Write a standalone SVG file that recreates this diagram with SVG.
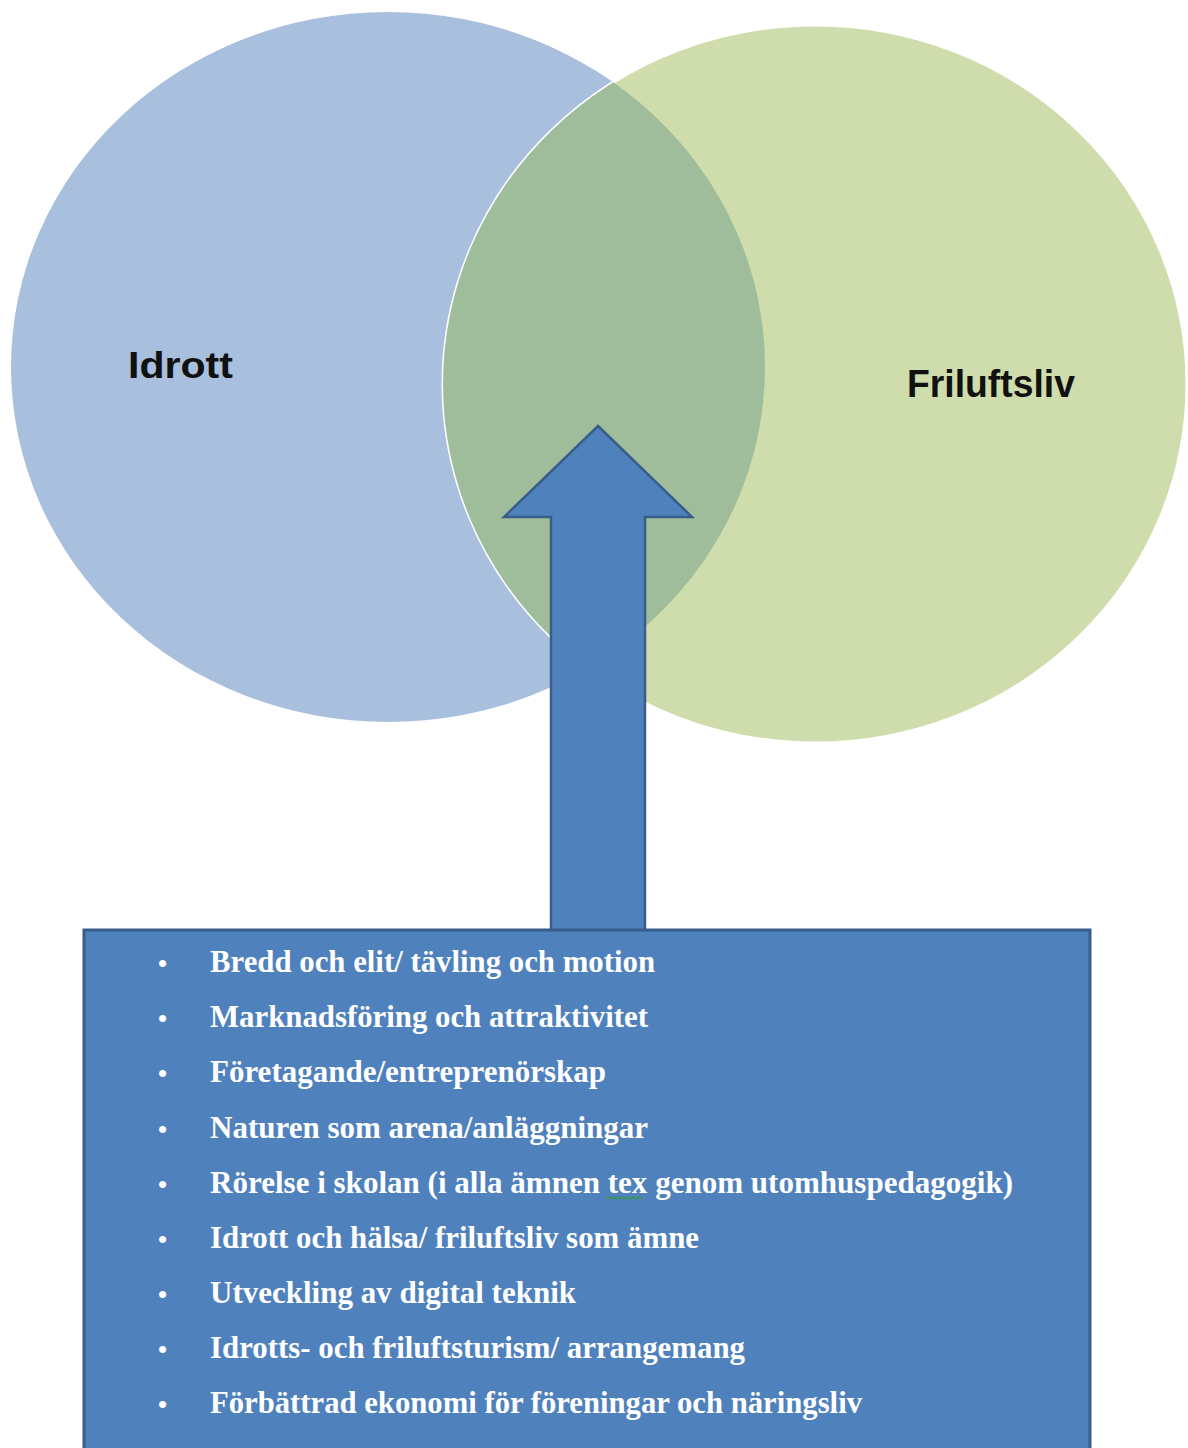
<svg xmlns="http://www.w3.org/2000/svg" width="1188" height="1448" viewBox="0 0 1188 1448">
<style>
.lbl{font-family:"Liberation Sans",Arial,sans-serif;font-weight:bold;fill:#111;}
.item{font-family:"Liberation Serif","Times New Roman",serif;font-weight:bold;font-size:32px;fill:#fff;}
.bul{font-family:"Liberation Sans",Arial,sans-serif;font-size:26px;fill:#fff;}
</style>
<defs>
<clipPath id="greenClip"><ellipse cx="815" cy="384" rx="372" ry="359"/></clipPath>
</defs>
<rect width="1188" height="1448" fill="#fff"/>
<g id="idrott">
<ellipse cx="388" cy="367" rx="377" ry="355" fill="#a8bfdd"/>
</g>
<g id="friluftsliv">
<ellipse cx="815" cy="384" rx="372" ry="359" fill="#cfdcab" stroke="#fff" stroke-width="3"/>
</g>
<g id="overlap">
<ellipse cx="388" cy="367" rx="377" ry="355" fill="#9fbd9b" clip-path="url(#greenClip)"/>
</g>
<g id="labels">
<text class="lbl" x="128" y="378" font-size="37" textLength="105" lengthAdjust="spacingAndGlyphs">Idrott</text>
<text class="lbl" x="907" y="397" font-size="38" textLength="168" lengthAdjust="spacingAndGlyphs">Friluftsliv</text>
</g>
<g id="connectors">
<path d="M598 426 L692 517 L645 517 L645 945 L551 945 L551 517 L504 517 Z" fill="#4f81bd" stroke="#385d8a" stroke-width="2.5" stroke-linejoin="miter"/>
</g>
<g id="box">
<rect x="84" y="930" width="1006" height="540" fill="#4f81bd" stroke="#385d8a" stroke-width="3"/>
<g class="bul">
<text x="158" y="972">•</text>
<text x="158" y="1027">•</text>
<text x="158" y="1082">•</text>
<text x="158" y="1138">•</text>
<text x="158" y="1193">•</text>
<text x="158" y="1248">•</text>
<text x="158" y="1303">•</text>
<text x="158" y="1358">•</text>
<text x="158" y="1413">•</text>
</g>
<text class="item" x="210" y="972" textLength="445" lengthAdjust="spacingAndGlyphs">Bredd och elit/ tävling och motion</text>
<text class="item" x="210" y="1027" textLength="438" lengthAdjust="spacingAndGlyphs">Marknadsföring och attraktivitet</text>
<text class="item" x="210" y="1082" textLength="396" lengthAdjust="spacingAndGlyphs">Företagande/entreprenörskap</text>
<text class="item" x="210" y="1138" textLength="438" lengthAdjust="spacingAndGlyphs">Naturen som arena/anläggningar</text>
<text class="item" x="210" y="1193" textLength="803" lengthAdjust="spacingAndGlyphs">Rörelse i skolan (i alla ämnen tex genom utomhuspedagogik)</text>
<text class="item" x="210" y="1248" textLength="489" lengthAdjust="spacingAndGlyphs">Idrott och hälsa/ friluftsliv som ämne</text>
<text class="item" x="210" y="1303" textLength="366" lengthAdjust="spacingAndGlyphs">Utveckling av digital teknik</text>
<text class="item" x="210" y="1358" textLength="535" lengthAdjust="spacingAndGlyphs">Idrotts- och friluftsturism/ arrangemang</text>
<text class="item" x="210" y="1413" textLength="652" lengthAdjust="spacingAndGlyphs">Förbättrad ekonomi för föreningar och näringsliv</text>
<path d="M606 1199 l3 -2 l3 2 l3 -2 l3 2 l3 -2 l3 2 l3 -2 l3 2 l3 -2 l3 2 l3 -2 l3 2" fill="none" stroke="#3a9a3a" stroke-width="1.2"/>
</g>
</svg>
